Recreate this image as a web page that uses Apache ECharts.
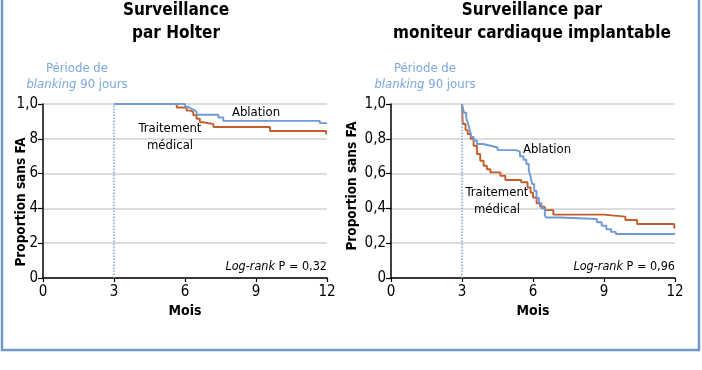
<!DOCTYPE html>
<html><head><meta charset="utf-8">
<script src="https://cdn.jsdelivr.net/npm/echarts@6/dist/echarts.min.js"></script>
<style>html,body{margin:0;padding:0;background:#fff}#c{width:702px;height:370px}</style>
</head><body><div id="c"></div>
<script>
// ---- data ----
const xTicks = [0, 3, 6, 9, 12];
const leftYLabels = ['0', '2', '4', '6', '8', '1,0'];
const rightYLabels = ['0', '0,2', '0,4', '0,6', '0,8', '1,0'];

// Holter – Ablation (time in months, survival)
const holterAblT = [3, 6.0, 6.1, 6.25, 6.39, 6.49, 7.41, 7.62, 11.7, 12];
const holterAblS = [1.0, 0.985, 0.975, 0.965, 0.955, 0.938, 0.922, 0.903, 0.89, 0.89];
// Holter – Traitement médical
const holterMedT = [3, 5.65, 6.07, 6.24, 6.35, 6.49, 6.63, 6.77, 7.2, 9.59, 11.96, 12];
const holterMedS = [1.0, 0.98, 0.962, 0.953, 0.935, 0.915, 0.895, 0.884, 0.868, 0.845, 0.83, 0.83];

// Moniteur implantable – Ablation
const imAblT = [3, 3.08, 3.18, 3.25, 3.33, 3.4, 3.49, 3.63, 3.9, 4.2, 4.5, 5.3, 5.45, 5.6, 5.72, 5.82, 5.9, 5.96, 6.05, 6.15, 6.25, 6.36, 6.5, 6.55, 7.15, 8.7, 8.9, 9.1, 9.3, 9.5, 12];
const imAblS = [1.0, 0.95, 0.92, 0.89, 0.85, 0.81, 0.79, 0.77, 0.76, 0.75, 0.735, 0.725, 0.70, 0.68, 0.655, 0.62, 0.58, 0.54, 0.50, 0.46, 0.43, 0.40, 0.36, 0.348, 0.339, 0.32, 0.30, 0.28, 0.265, 0.253, 0.253];
// Moniteur implantable – Traitement médical
const imMedT = [3, 3.03, 3.15, 3.24, 3.37, 3.49, 3.63, 3.77, 3.91, 4.05, 4.2, 4.62, 4.83, 5.5, 5.77, 5.9, 6.0, 6.15, 6.3, 6.5, 6.86, 8.97, 9.9, 10.4, 11.97, 12];
const imMedS = [1.0, 0.885, 0.85, 0.828, 0.80, 0.76, 0.713, 0.674, 0.645, 0.625, 0.607, 0.588, 0.563, 0.55, 0.52, 0.49, 0.463, 0.43, 0.41, 0.39, 0.364, 0.353, 0.333, 0.31, 0.287, 0.287];

const zip = (t, s) => t.map((v, i) => [v, s[i]]);

const FONT = "'Liberation Sans Narrow','DejaVu Sans Condensed','Roboto Condensed','Roboto',sans-serif";
const BLUE = '#6f9ad3';
const ORANGE = '#c45d2b';
const LIGHTBLUE = '#7aa8df';

function xAxis(gi) {
  return {
    gridIndex: gi, type: 'value', min: 0, max: 12, interval: 3,
    axisLine: { lineStyle: { color: '#000', width: 1.5 } },
    axisTick: { show: true, length: 4, lineStyle: { color: '#000', width: 1.2 } },
    axisLabel: { color: '#000', fontSize: 15, fontFamily: FONT, margin: 7,
      formatter: v => String(xTicks[Math.round(v / 3)]) },
    splitLine: { show: false }
  };
}
function yAxis(gi, labels) {
  return {
    gridIndex: gi, type: 'value', min: 0, max: 1, interval: 0.2,
    axisLine: { show: true, lineStyle: { color: '#000', width: 1.5 } },
    axisTick: { show: true, length: 5, lineStyle: { color: '#000', width: 1.2 } },
    axisLabel: { color: '#000', fontSize: 15, fontFamily: FONT, margin: 5,
      formatter: v => labels[Math.round(v * 5)] },
    splitLine: { show: true, lineStyle: { color: '#d2d2d2', width: 1.5 } }
  };
}
function kmSeries(gi, data, color, withMark) {
  const s = {
    type: 'line', xAxisIndex: gi, yAxisIndex: gi, step: 'end', data: data,
    showSymbol: false, symbol: 'none', animation: false,
    lineStyle: { color: color, width: 1.9 }, z: 3
  };
  if (withMark) {
    s.markLine = {
      silent: true, symbol: 'none', label: { show: false }, animation: false,
      lineStyle: { color: LIGHTBLUE, type: 'dotted', width: 1.5 },
      data: [{ xAxis: 3 }]
    };
  }
  return s;
}
function txt(x, y, text, opts) {
  return Object.assign({
    type: 'text', x: x, y: y, z: 10,
    style: Object.assign({ text: text, fill: '#000', fontSize: 13, fontFamily: FONT,
      align: 'center', verticalAlign: 'middle' }, (opts && opts.style) || {})
  }, opts && opts.extra || {});
}
const richBlank = { n: { fill: LIGHTBLUE, fontSize: 13, fontFamily: FONT, lineHeight: 16 },
  i: { fill: LIGHTBLUE, fontSize: 13, fontStyle: 'italic', fontFamily: FONT, lineHeight: 16 } };
const richLog = { n: { fontSize: 12.5, fontFamily: FONT, fill: '#000' },
  i: { fontSize: 12.5, fontStyle: 'italic', fontFamily: FONT, fill: '#000' } };

const chart = echarts.init(document.getElementById('c'), null, { renderer: 'canvas' });
chart.setOption({
  animation: false,
  grid: [
    { left: 43, top: 104, width: 284, height: 174 },
    { left: 391, top: 104, width: 284, height: 174 }
  ],
  xAxis: [xAxis(0), xAxis(1)],
  yAxis: [yAxis(0, leftYLabels), yAxis(1, rightYLabels)],
  series: [
    kmSeries(0, zip(holterMedT, holterMedS), ORANGE, true),
    kmSeries(0, zip(holterAblT, holterAblS), BLUE, false),
    kmSeries(1, zip(imMedT, imMedS), ORANGE, true),
    kmSeries(1, zip(imAblT, imAblS), BLUE, false)
  ],
  graphic: [
    { type: 'rect', shape: { x: 2, y: -10, width: 697, height: 360 }, z: 0,
      style: { fill: 'none', stroke: '#6f98cf', lineWidth: 2.5 } },
    txt(176, 22, 'Surveillance\npar Holter', { style: { fontSize: 17, fontWeight: 'bold', lineHeight: 23 } }),
    txt(532, 22, 'Surveillance par\nmoniteur cardiaque implantable', { style: { fontSize: 17, fontWeight: 'bold', lineHeight: 23 } }),
    txt(77, 77, '{n|Période de}\n{i|blanking}{n| 90 jours}', { style: { fill: LIGHTBLUE, lineHeight: 16, rich: richBlank } }),
    txt(425, 77, '{n|Période de}\n{i|blanking}{n| 90 jours}', { style: { fill: LIGHTBLUE, lineHeight: 16, rich: richBlank } }),
    txt(256, 113, 'Ablation'),
    txt(170, 137, 'Traitement\nmédical', { style: { lineHeight: 17 } }),
    txt(547, 150, 'Ablation'),
    txt(497, 201, 'Traitement\nmédical', { style: { lineHeight: 17 } }),
    txt(327, 267, '{i|Log-rank} {n|P = 0,32}', { style: { align: 'right', rich: richLog } }),
    txt(675, 267, '{i|Log-rank} {n|P = 0,96}', { style: { align: 'right', rich: richLog } }),
    txt(185, 311, 'Mois', { style: { fontSize: 14, fontWeight: 'bold' } }),
    txt(533, 311, 'Mois', { style: { fontSize: 14, fontWeight: 'bold' } }),
    txt(21, 202, 'Proportion sans FA', { style: { fontSize: 13.5, fontWeight: 'bold' }, extra: { rotation: Math.PI / 2 } }),
    txt(352, 186, 'Proportion sans FA', { style: { fontSize: 13.5, fontWeight: 'bold' }, extra: { rotation: Math.PI / 2 } })
  ]
});
</script>
</body></html>
